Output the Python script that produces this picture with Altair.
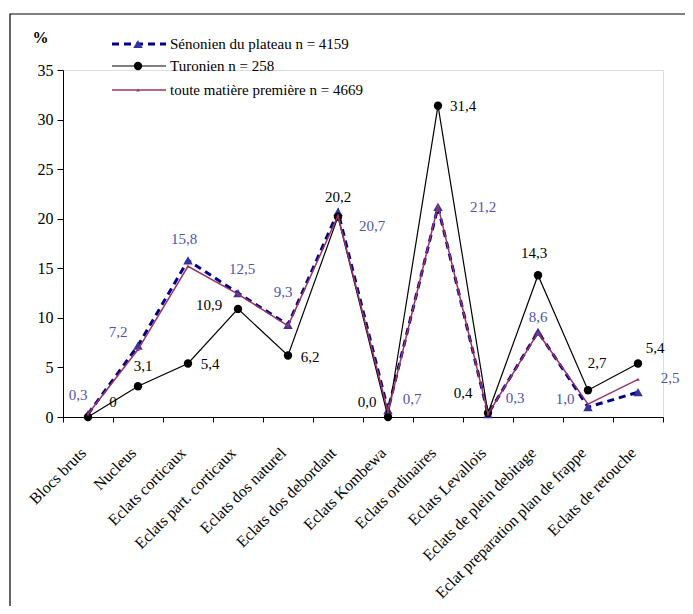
import altair as alt
import pandas as pd

categories = ["Blocs bruts", "Nucleus", "Eclats corticaux", "Eclats part. corticaux",
              "Eclats dos naturel", "Eclats dos debordant", "Eclats Kombewa",
              "Eclats ordinaires", "Eclats Levallois", "Eclats de plein debitage",
              "Eclat preparation plan de frappe", "Eclats de retouche"]
series_names = ["Sénonien du plateau  n = 4159", "Turonien n = 258",
                "toute matière première n = 4669"]
senonien = [0.3, 7.2, 15.8, 12.5, 9.3, 20.7, 0.7, 21.2, 0.3, 8.6, 1.0, 2.5]
turonien = [0.0, 3.1, 5.4, 10.9, 6.2, 20.2, 0.0, 31.4, 0.4, 14.3, 2.7, 5.4]
toute = [0.3, 6.8, 15.2, 12.4, 9.2, 20.3, 0.5, 21.3, 0.3, 8.5, 1.3, 3.8]
senonien_labels = ["0,3", "7,2", "15,8", "12,5", "9,3", "20,7", "0,7", "21,2",
                   "0,3", "8,6", "1,0", "2,5"]
turonien_labels = ["0", "3,1", "5,4", "10,9", "6,2", "20,2", "0,0", "31,4",
                   "0,4", "14,3", "2,7", "5,4"]
y_ticks = [0, 5, 10, 15, 20, 25, 30, 35]

# label placement offsets (pixels) relative to each point
sen_dx = [-10, -20, -4, 4, -5, 34, 24, 45, 27, 0, -23, 32]
sen_dy = [-19, -14, -21, -24, -33, 14, -11, 0, -16, -15, -8, -14]
tur_dx = [25, 5, 22, -29, 22, 0, -21, 25, -25, -4, 9, 17]
tur_dy = [-15, -20, 1, -4, 1, -20, -15, 0, -20, -22, -27, -15]

FONT = "Liberation Serif, DejaVu Serif, serif"
BLUE_LINE = "#000080"
BLUE_MARK = "#3333a0"
BLUE_TEXT = "#5252b0"
PINK = "#993366"

def frame(vals, labels, name):
    return pd.DataFrame({"cat": categories, "v": vals, "lab": labels, "series": name})

df_s = frame(senonien, senonien_labels, series_names[0])
df_t = frame(turonien, turonien_labels, series_names[1])
df_p = frame(toute, [""] * len(toute), series_names[2])

xenc = alt.X("cat:N", sort=categories,
             scale=alt.Scale(type="band", paddingInner=0, paddingOuter=0),
             axis=alt.Axis(title=None, labelAngle=-45, labelAlign="right",
                           labelBaseline="middle", labelPadding=28, labelOffset=-5,
                           labelLimit=0,
                           tickBand="extent", tickSize=5, tickColor="black",
                           domainColor="black", labelColor="black",
                           labelFont=FONT, labelFontSize=16))
yenc = alt.Y("v:Q", scale=alt.Scale(domain=[0, 35]),
             axis=alt.Axis(values=y_ticks, title="%", titleAngle=0, titleX=-23,
                           titleY=-25, titleFont=FONT, titleFontSize=16,
                           titleFontWeight="bold", titleAlign="center",
                           grid=False, tickSize=6, tickColor="black",
                           domainColor="black", labelColor="black",
                           labelFont=FONT, labelFontSize=16, labelPadding=4))

sen_line = alt.Chart(df_s).mark_line(color=BLUE_LINE, strokeWidth=3,
                                     strokeDash=[7, 5]).encode(x=xenc, y=yenc)
sen_pts = alt.Chart(df_s).mark_point(shape="triangle-up", filled=True, size=90,
                                     color=BLUE_MARK, opacity=1).encode(x=xenc, y=yenc)
tur_line = alt.Chart(df_t).mark_line(color="black", strokeWidth=1.2).encode(x=xenc, y=yenc)
tur_pts = alt.Chart(df_t).mark_point(shape="circle", filled=True, size=70,
                                     color="black", opacity=1).encode(x=xenc, y=yenc)
p_line = alt.Chart(df_p).mark_line(color=PINK, strokeWidth=1.5).encode(x=xenc, y=yenc)
p_pts = alt.Chart(df_p).mark_point(shape="triangle-up", filled=True, size=12,
                                   color=PINK, opacity=1).encode(x=xenc, y=yenc)

layers = [sen_line, sen_pts, tur_line, tur_pts, p_line, p_pts]

for i, c in enumerate(categories):
    layers.append(alt.Chart(df_s).transform_filter(alt.datum.cat == c).mark_text(
        font=FONT, fontSize=15, color=BLUE_TEXT, dx=sen_dx[i], dy=sen_dy[i],
        align="center", baseline="middle").encode(x=xenc, y=yenc, text="lab:N"))
    layers.append(alt.Chart(df_t).transform_filter(alt.datum.cat == c).mark_text(
        font=FONT, fontSize=15, color="black", dx=tur_dx[i], dy=tur_dy[i],
        align="center", baseline="middle").encode(x=xenc, y=yenc, text="lab:N"))

# legend (drawn manually, Excel style)
leg_df = pd.DataFrame({"name": series_names})
leg_y = [-26, -4, 20]
leg = []
leg.append(alt.Chart(leg_df.iloc[[0]]).mark_rule(color=BLUE_LINE, strokeWidth=3,
           strokeDash=[7, 5]).encode(x=alt.value(49), x2=alt.value(103), y=alt.value(leg_y[0])))
leg.append(alt.Chart(leg_df.iloc[[0]]).mark_point(shape="triangle-up", filled=True, size=90,
           color=BLUE_MARK, opacity=1).encode(x=alt.value(75), y=alt.value(leg_y[0])))
leg.append(alt.Chart(leg_df.iloc[[1]]).mark_rule(color="black", strokeWidth=1.2).encode(
    x=alt.value(49), x2=alt.value(103), y=alt.value(leg_y[1])))
leg.append(alt.Chart(leg_df.iloc[[1]]).mark_point(shape="circle", filled=True, size=70,
           color="black", opacity=1).encode(x=alt.value(75), y=alt.value(leg_y[1])))
leg.append(alt.Chart(leg_df.iloc[[2]]).mark_rule(color=PINK, strokeWidth=1.5).encode(
    x=alt.value(49), x2=alt.value(103), y=alt.value(leg_y[2])))
leg.append(alt.Chart(leg_df.iloc[[2]]).mark_point(shape="triangle-up", filled=True, size=12,
           color=PINK, opacity=1).encode(x=alt.value(75), y=alt.value(leg_y[2])))
for k in range(3):
    leg.append(alt.Chart(leg_df.iloc[[k]]).mark_text(font=FONT, fontSize=15, color="black",
               align="left", baseline="middle").encode(
        x=alt.value(107), y=alt.value(leg_y[k]), text="name:N"))

border = alt.Chart(leg_df.iloc[[0]]).mark_rect(filled=False, stroke="black",
                                                strokeWidth=1.2, clip=False).encode(
    x=alt.value(-53), x2=alt.value(660), y=alt.value(-56), y2=alt.value(560))

chart = alt.layer(border, *layers, *leg).properties(
    width=600, height=347,
    autosize=alt.AutoSizeParams(type="none"),
    padding={"left": 55, "top": 62, "right": 22, "bottom": 189},
).configure_view(stroke=None).configure(background="white")

chart.save("out.html", embed_options={"renderer": "svg", "actions": False})
